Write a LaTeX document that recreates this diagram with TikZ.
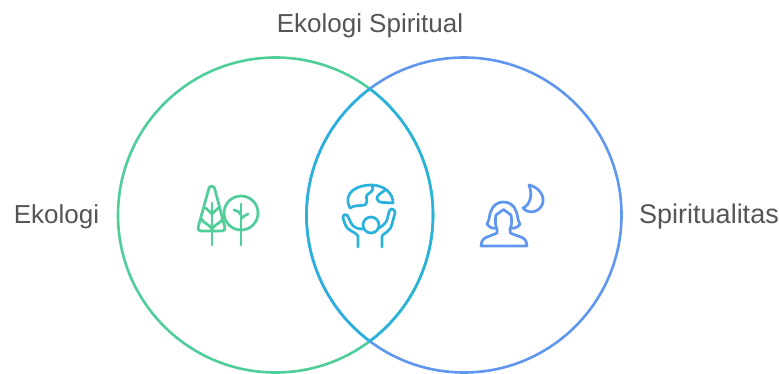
\documentclass[tikz,border=0pt]{standalone}
\usepackage{fontspec}
\setmainfont{Liberation Sans}
\definecolor{cgreen}{HTML}{4FCE99}
\definecolor{cblue}{HTML}{6097EE}
\definecolor{cteal}{HTML}{2BB2DC}
\definecolor{ctext}{HTML}{555555}
\tikzset{
  ring/.style={line width=2.6pt},
  icon/.style={line width=2.7pt,line cap=round,line join=round},
  lab/.style={text=ctext,font=\fontsize{26}{30}\selectfont,inner sep=0pt,anchor=base}
}
\begin{document}
\begin{tikzpicture}[x=1pt,y=-1pt]
\useasboundingbox (0,0) rectangle (779,374);
\fill[white] (0,0) rectangle (779,374);
\draw[ring,cgreen] (275.5,215) circle[radius=157.5];
\draw[ring,cblue] (464,215) circle[radius=157.5];
\begin{scope}
\clip (275.5,215) circle[radius=157.5];
\draw[ring,cteal] (464,215) circle[radius=157.5];
\end{scope}
\begin{scope}
\clip (464,215) circle[radius=157.5];
\draw[ring,cteal] (275.5,215) circle[radius=157.5];
\end{scope}
\node[lab] (title) at (370,33) {Ekologi Spiritual};
\node[lab] (left) at (56.5,224) {Ekologi};
\node[lab,font=\fontsize{27}{30}\selectfont] (right) at (709,224) {Spiritualitas};
% trees
\begin{scope}[icon,cgreen]
\draw (209,188) .. controls (210.5,185.5) and (213,185.5) .. (214.5,188)
  -- (224.5,226) .. controls (225.5,229.5) and (224.5,231) .. (222,231)
  -- (201,231) .. controls (198.5,231) and (197.5,229.5) .. (198.5,226) -- cycle;
\draw (212,203) -- (212,245);
\draw (205.5,208) .. controls (207,210) and (210,211) .. (212,214) .. controls (214,211) and (217,210) .. (218.5,208);
\draw (201.5,219) .. controls (203,223) and (209,224) .. (212,229) .. controls (215,224) and (221,223) .. (222.5,219);
\draw (241,213) circle[radius=17];
\draw (241,204) -- (241,245);
\draw (234,210) .. controls (237,210.5) and (240,212) .. (241,215);
\draw (248,214) .. controls (245,215.5) and (242,217) .. (241,219);
\end{scope}
% globe and person
\begin{scope}[icon,cteal]
\draw (350,208) .. controls (342,192) and (358,185) .. (371,185) .. controls (384,185) and (393,193) .. (393,203);
\draw (350,208) .. controls (354,205) and (360,206) .. (365,205) .. controls (369,202) and (365,197) .. (367,195)
  .. controls (370,192) and (375,191) .. (372,185.5);
\draw (385,190) .. controls (382,193) and (376,195) .. (377,199) .. controls (378,204) and (386,202) .. (393,203);
\draw (371,225) circle[radius=8];
\draw (358,247) -- (358,236) .. controls (355,231) and (348,232) .. (345,224) -- (343,218)
  .. controls (343,214) and (346,214) .. (347,215) .. controls (349,217) and (349,220) .. (351,223)
  .. controls (354,228) and (358,229) .. (363,229);
\draw (382,247) -- (382,236) .. controls (385,232) and (390,232) .. (392,224) -- (395,213)
  .. controls (395,209) and (391,208) .. (390,210) .. controls (388,213) and (388,219) .. (386,222)
  .. controls (384,225) and (382,226) .. (379,228);
\end{scope}
% woman and moon
\begin{scope}[icon,cblue]
\draw (529,185) .. controls (539,187) and (546,197) .. (542,205) .. controls (538,213) and (528,214) .. (523,208)
  .. controls (530,205) and (533,195) .. (529,185) -- cycle;
\draw (496,228) .. controls (492,229) and (489,227) .. (487,224) .. controls (490,219) and (489,215) .. (491,211)
  .. controls (493,205) and (498,202) .. (503.5,202) .. controls (509,202) and (514,205) .. (516,211)
  .. controls (518,215) and (517,219) .. (520,224) .. controls (518,227) and (515,229) .. (511,228);
\draw (496,215) .. controls (498,213) and (501,212) .. (503.5,209.5) .. controls (506,212) and (509,213) .. (511,215)
  .. controls (512,220) and (512,225) .. (510,229) -- (510.5,233)
  .. controls (514,235) and (519,236) .. (523,238) .. controls (526,240) and (527,243) .. (527,246)
  -- (481,246) .. controls (481,243) and (482,240) .. (485,238) .. controls (489,236) and (493,235) .. (497,233)
  -- (497,229) .. controls (495,225) and (495,220) .. (496,215) -- cycle;
\end{scope}
\end{tikzpicture}
\end{document}
